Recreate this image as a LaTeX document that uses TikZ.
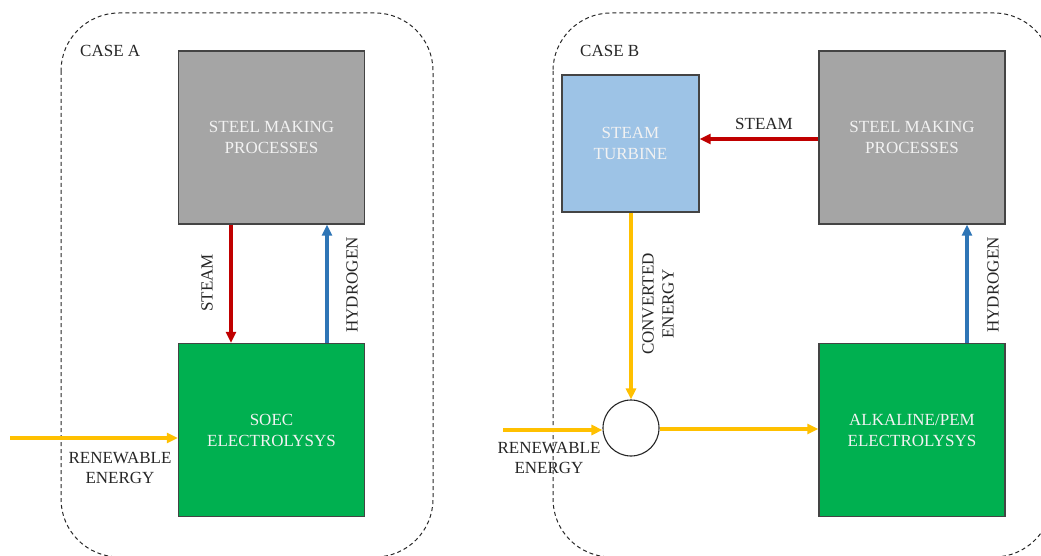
\documentclass[tikz,border=0pt]{standalone}
\usepackage{fontspec}
\setmainfont{Liberation Serif}
\usetikzlibrary{arrows.meta,positioning}

\definecolor{steelgray}{HTML}{A5A5A5}
\definecolor{boxedge}{HTML}{444444}
\definecolor{elgreen}{HTML}{00B050}
\definecolor{turbblue}{HTML}{9DC3E6}
\definecolor{steamred}{HTML}{C00000}
\definecolor{energyyel}{HTML}{FFC000}
\definecolor{hydblue}{HTML}{2E75B6}
\definecolor{boxtext}{HTML}{F2F2F2}
\definecolor{labeltext}{HTML}{262626}

\tikzset{
  procbox/.style={draw=boxedge, line width=1.4pt, minimum width=186pt, minimum height=173pt,
    inner sep=0pt, text=boxtext, align=center, font=\fontsize{17}{21}\selectfont},
  turbbox/.style={procbox, minimum width=137pt, minimum height=137pt, fill=turbblue},
  casebox/.style={draw=black!85, dash pattern=on 4pt off 3pt, line width=1pt, rounded corners=58pt},
  flow/.style={line width=3.2pt, -{Triangle[length=11pt,width=10pt]}},
  lbl/.style={text=labeltext, align=center, font=\fontsize{17}{20}\selectfont, inner sep=0pt},
  junction/.style={circle, draw=black!85, line width=1.1pt, minimum size=56pt, inner sep=0pt, fill=white},
}

\begin{document}
\begin{tikzpicture}[x=1pt,y=-1pt]
\useasboundingbox (0,0) rectangle (1041,556);

% system boundaries
\draw[casebox] (61,13) rectangle (433,557);
\draw[casebox] (553,13) rectangle (1052,557);

\node[lbl, anchor=west] (caseA) at (80,51) {CASE A};
\node[lbl, anchor=west] (caseB) at (580,51) {CASE B};

% ---- Case A ----
\node[procbox, fill=steelgray] (steelA) at (271.5,137.5) {STEEL MAKING\\PROCESSES};
\node[procbox, fill=elgreen] (soec) at (271.5,430) {SOEC\\ELECTROLYSYS};
\coordinate (reA) at (10,438);

\draw[flow, steamred] (steelA.south -| 231,0) -- (soec.north -| 231,0);
\draw[flow, hydblue] (soec.north -| 327,0) -- (steelA.south -| 327,0);
\draw[flow, energyyel] (reA) -- (reA -| soec.west);

\node[lbl, rotate=90] (steamA) at (207,283) {STEAM};
\node[lbl, rotate=90] (hydA) at (352,285) {HYDROGEN};
\node[lbl] (renA) at (120,468) {RENEWABLE\\ENERGY};

% ---- Case B ----
\node[turbbox] (turb) at (630.5,143.5) {STEAM\\TURBINE};
\node[procbox, fill=steelgray] (steelB) at (912,137.5) {STEEL MAKING\\PROCESSES};
\node[procbox, fill=elgreen] (alk) at (912,430) {ALKALINE/PEM\\ELECTROLYSYS};
\node[junction] (mix) at (631,428) {};
\coordinate (reB) at (503,430);

\draw[flow, steamred] (steelB.west |- 0,139) -- (turb.east |- 0,139);
\draw[flow, energyyel] (turb.south -| mix.north) -- (mix.north);
\draw[flow, energyyel] (reB) -- (reB -| mix.west);
\draw[flow, energyyel] (mix.east |- 0,429) -- (alk.west |- 0,429);
\draw[flow, hydblue] (alk.north -| 967,0) -- (steelB.south -| 967,0);

\node[lbl] (steamB) at (764,124) {STEAM};
\node[lbl, rotate=90] (convB) at (658,304) {CONVERTED\\ENERGY};
\node[lbl] (renB) at (549,458) {RENEWABLE\\ENERGY};
\node[lbl, rotate=90] (hydB) at (993,285) {HYDROGEN};
\end{tikzpicture}
\end{document}
